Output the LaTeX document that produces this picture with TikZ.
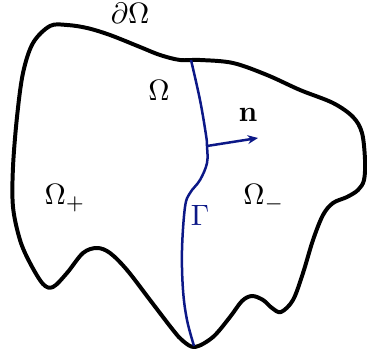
\documentclass[tikz,border=0pt]{standalone}
\usetikzlibrary{arrows.meta}
\definecolor{gblue}{RGB}{12,24,135}
\tikzset{
  boundary/.style={line width=1.35pt, black, line join=round},
  iface/.style={line width=0.85pt, gblue},
  lbl/.style={inner sep=0pt},
}
\begin{document}
\begin{tikzpicture}[x=0.34pt, y=-0.34pt]
\useasboundingbox (0,0) rectangle (367,358);
\draw[boundary] plot[smooth cycle, tension=0.55] coordinates {
 (33,43) (50,26) (67,25) (87,28) (110,35) (140,47) (160,55) (180,60) (200,60)
 (233,63) (267,75) (300,90) (333,103) (353,117) (362,133) (365,160) (364,180)
 (358,190) (347,197) (333,203) (323,215) (313,240) (303,273) (293,300) (281,312)
 (272,308) (263,300) (252,296) (242,301) (230,317) (213,337) (195,347) (183,341)
 (173,330) (150,300) (127,270) (110,253) (97,248) (83,253) (67,273) (53,287)
 (43,284) (30,263) (20,240) (13,207) (13,167) (17,117) (23,73)};
\coordinate (gtop) at (191,60);
\coordinate (gbot) at (194,346);
\coordinate (nbase) at (207,146);
\coordinate (ntip) at (258,138);
\draw[iface] plot[smooth, tension=0.6] coordinates {
 (191,60) (200,100) (206,135) (207,146) (207,163) (200,180) (190,193) (185,207)
 (182,250) (183,290) (187,320) (194,346)};
\draw[iface, -{Stealth[length=3.5pt, width=3pt]}] (nbase) -- (ntip);
\node[lbl] (dO) at (130,13) {$\partial\Omega$};
\node[lbl] (O) at (159,90) {$\Omega$};
\node[lbl] (n) at (248,115) {$\mathbf{n}$};
\node[lbl] (Op) at (65,198) {$\Omega_+$};
\node[lbl] (Om) at (264,198) {$\Omega_-$};
\node[lbl, text=gblue] (G) at (200,215) {$\Gamma$};
\end{tikzpicture}
\end{document}
